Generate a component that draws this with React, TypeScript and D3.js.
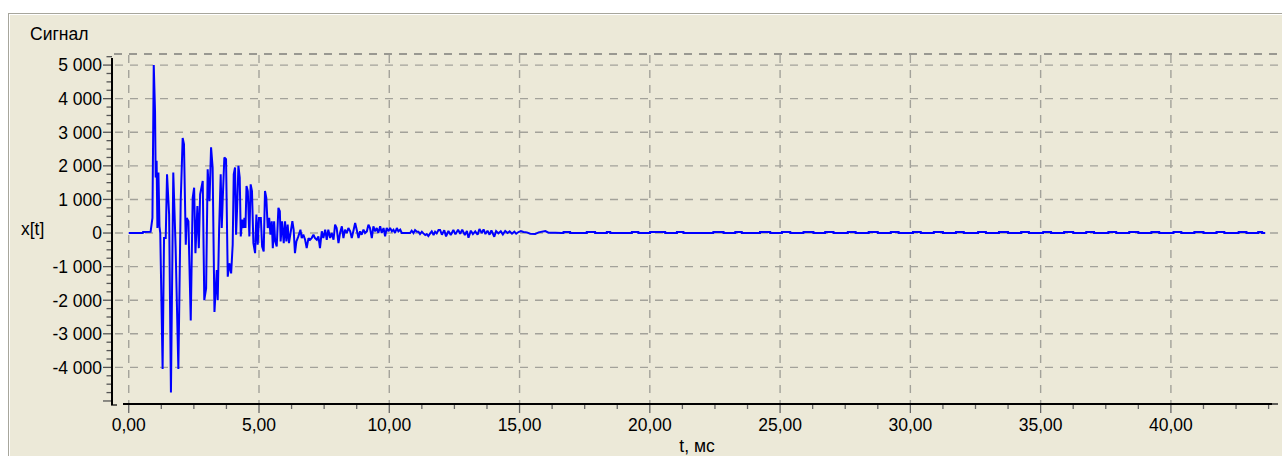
import React, { useEffect, useRef } from 'react';
import * as d3 from 'd3';

// signal vertices: [t, мс ; x[t]]
const signal: [number, number][] = [
  [0, 0], [0.54, 0], [0.55, 30], [0.84, 40], [0.91, 450], [0.96, 5000], [1.01, 3600], [1.035, 1650],
  [1.07, 2150], [1.1, 150], [1.14, 1800], [1.18, 200], [1.21, 0], [1.3, -4050], [1.355, -150], [1.42, -150],
  [1.47, 1750], [1.55, 550], [1.62, -4750], [1.71, 1800], [1.8, -450], [1.905, -4050], [1.995, 950],
  [2.07, 2830], [2.12, 2650], [2.19, -350], [2.225, 450], [2.29, 350], [2.38, -2600], [2.455, 1050],
  [2.51, 1350], [2.56, -600], [2.635, 800], [2.69, -450], [2.74, 1150], [2.84, 1550], [2.9, -2000],
  [2.97, -1650], [3.03, 1900], [3.1, 950], [3.16, 2550], [3.22, 1950], [3.29, -2350], [3.38, -1100],
  [3.415, -2000], [3.47, 150], [3.53, 1750], [3.57, 150], [3.61, 1050], [3.67, 2250], [3.735, 2200],
  [3.8, -1300], [3.86, -900], [3.93, -1200], [3.99, -350], [4.03, 1750], [4.08, 1950], [4.12, -50],
  [4.16, 750], [4.21, 2000], [4.26, 1650], [4.3, -100], [4.35, 400], [4.4, 150], [4.44, 450], [4.48, 150],
  [4.52, 1400], [4.57, 1250], [4.63, -100], [4.68, 1450], [4.73, 1250], [4.785, -300], [4.85, -600],
  [4.9, 550], [4.95, -350], [5.0, 450], [5.07, 450], [5.12, -400], [5.18, -550], [5.23, 1250], [5.28, 1050],
  [5.335, 150], [5.39, 450], [5.44, -50], [5.49, 350], [5.53, -450], [5.58, 350], [5.62, -250], [5.68, -400],
  [5.745, 750], [5.8, 650], [5.83, -250], [5.885, 350], [5.95, -300], [6.0, 350], [6.05, -250], [6.1, 250],
  [6.15, -300], [6.22, 50], [6.28, 350], [6.33, 100], [6.38, -600], [6.435, -250], [6.51, -100], [6.59, 100],
  [6.64, -150], [6.7, -50], [6.77, -200], [6.83, -450], [6.9, -150], [6.96, -200], [7.02, -150], [7.09, -50],
  [7.15, -150], [7.22, -200], [7.28, -100], [7.34, -450], [7.41, 50], [7.47, -150], [7.54, 100], [7.6, -200],
  [7.66, 100], [7.73, -150], [7.79, 0], [7.86, -200], [7.92, 250], [7.98, 150], [8.05, -300], [8.11, 0],
  [8.18, 200], [8.24, -150], [8.3, 100], [8.37, 0], [8.43, 150], [8.5, 50], [8.56, -150], [8.62, 50],
  [8.69, 300], [8.75, 100], [8.82, -150], [8.88, 50], [8.94, -50], [9.01, 100], [9.07, 0], [9.14, 50],
  [9.2, 250], [9.26, 150], [9.33, -150], [9.39, 200], [9.46, 50], [9.52, 150], [9.58, 0], [9.65, 200],
  [9.71, 0], [9.78, 150], [9.84, -100], [9.9, 150], [9.97, 50], [10.03, 150], [10.1, 50], [10.16, 100],
  [10.22, 0], [10.29, 150], [10.35, 50], [10.42, 100], [10.48, 0], [10.8, 0], [10.86, 70], [10.93, 0],
  [10.99, 90], [11.06, 40], [11.12, 40], [11.18, -30], [11.25, 40], [11.31, -10], [11.38, -60], [11.44, -30],
  [11.5, -90], [11.57, -10], [11.63, 50], [11.7, -60], [11.76, 40], [11.82, -10], [11.89, 90], [11.95, 90],
  [12.02, -50], [12.11, 80], [12.18, -100], [12.27, 60], [12.36, -60], [12.46, 90], [12.54, -40], [12.64, 100],
  [12.72, -20], [12.8, 100], [12.9, -60], [12.98, 60], [13.04, -140], [13.13, 70], [13.21, -30], [13.3, 50],
  [13.39, -50], [13.46, 120], [13.55, 0], [13.62, 110], [13.69, -30], [13.77, 70], [13.85, -50], [13.92, 80],
  [14.03, -110], [14.1, 60], [14.19, -10], [14.28, 50], [14.36, -40], [14.45, 60], [14.54, 0], [14.62, 50],
  [14.71, -20], [14.8, 40], [14.87, -20], [14.96, 30], [15.05, 60], [15.15, 30], [15.28, 20], [15.41, -20],
  [15.6, -30], [15.73, 20], [15.99, 60], [16.11, 10], [16.37, 10], [16.6, 0],
];

// the quiet tail: one-step bumps [start, end] above zero
const tailBumps: [number, number][] = [
  [16.69, 16.94], [17.58, 17.9], [18.35, 18.48], [19.31, 19.56], [20.01, 20.59], [21.04, 21.29],
  [22.44, 22.83], [23.28, 23.53], [24.23, 24.62], [25.07, 25.39], [25.9, 26.28], [26.73, 27.05],
  [27.6, 27.9], [28.4, 28.75], [29.25, 29.55], [30.1, 30.4], [30.9, 31.25], [31.75, 32.05],
  [32.6, 32.9], [33.4, 33.75], [34.25, 34.55], [35.1, 35.4], [35.9, 36.25], [36.75, 37.05],
  [37.6, 37.9], [38.4, 38.75], [39.25, 39.55], [40.1, 40.4], [40.9, 41.25], [41.75, 42.05],
  [42.6, 42.9], [43.35, 43.5],
];
const tailLevel = 30;
const tailEnd = 43.62;

const yTicks = [-4000, -3000, -2000, -1000, 0, 1000, 2000, 3000, 4000, 5000];
const xTicks = [0, 5, 10, 15, 20, 25, 30, 35, 40];

const W = 1282;
const H = 456;
const FONT = '"Liberation Sans", Arial, sans-serif';
const FS = 17.5;

const App: React.FC = () => {
  const svgRef = useRef<SVGSVGElement>(null);

  useEffect(() => {
    if (!svgRef.current) return;
    const svg = d3.select(svgRef.current);
    svg.selectAll('*').remove();

    const x = d3.scaleLinear().domain([-0.22, 43.88]).range([123, 1272]);
    const y = d3.scaleLinear().domain([-5090, 5330]).range([404, 54]);

    // panel
    svg.append('rect').attr('x', 0).attr('y', 0).attr('width', W).attr('height', H).attr('fill', '#ffffff');
    svg.append('rect').attr('x', 8).attr('y', 13).attr('width', W).attr('height', H).attr('fill', '#ECE9D8');
    svg.append('line').attr('x1', 8).attr('x2', W).attr('y1', 13.5).attr('y2', 13.5).attr('stroke', '#A7A69C');
    svg.append('line').attr('x1', 9).attr('x2', W).attr('y1', 14.5).attr('y2', 14.5).attr('stroke', '#ffffff');
    svg.append('line').attr('x1', 8.5).attr('x2', 8.5).attr('y1', 13).attr('y2', H).attr('stroke', '#A7A69C');
    svg.append('line').attr('x1', 9.5).attr('x2', 9.5).attr('y1', 14).attr('y2', H).attr('stroke', '#ffffff');

    // grid
    const grid = svg.append('g').attr('stroke', '#A3A29A').attr('stroke-width', 1.4).attr('stroke-dasharray', '8,7');
    yTicks.forEach(v => {
      grid.append('line').attr('x1', 115).attr('x2', W).attr('y1', y(v)).attr('y2', y(v));
    });
    xTicks.forEach(t => {
      grid.append('line').attr('x1', x(t)).attr('x2', x(t)).attr('y1', 55).attr('y2', 404);
    });
    // plot frame
    svg.append('line').attr('x1', 114).attr('x2', W).attr('y1', 54).attr('y2', 54)
      .attr('stroke', '#7E7E7A').attr('stroke-width', 1.4).attr('stroke-dasharray', '8,7');
    svg.append('line').attr('x1', 1272).attr('x2', W).attr('y1', 404).attr('y2', 404)
      .attr('stroke', '#222').attr('stroke-width', 1.4).attr('stroke-dasharray', '6,5');

    // y axis
    const yMinor = d3.range(-5000, 5251, 250);
    svg.append('g').selectAll('line').data(yMinor).enter().append('line')
      .attr('x1', d => (d % 1000 === 0 ? 103 : 106.5)).attr('x2', 112)
      .attr('y1', d => y(d)).attr('y2', d => y(d))
      .attr('stroke', '#555').attr('stroke-width', 1.3);
    svg.append('line').attr('x1', 112).attr('x2', 112).attr('y1', 58).attr('y2', 405)
      .attr('stroke', '#000').attr('stroke-width', 2);
    svg.append('line').attr('x1', 111).attr('x2', 117).attr('y1', 405).attr('y2', 405)
      .attr('stroke', '#000').attr('stroke-width', 1.2);
    svg.append('g').selectAll('text').data(yTicks).enter().append('text')
      .attr('x', 102).attr('y', d => y(d)).attr('dy', '0.36em')
      .attr('text-anchor', 'end').attr('font-family', FONT).attr('font-size', FS).attr('fill', '#000')
      .text(d => d3.format(',')(d).replace(/,/g, ' ').replace('−', '-'));

    // x axis
    const xMinor = d3.range(0, 43.8, 1.25);
    svg.append('g').selectAll('line').data(xMinor).enter().append('line')
      .attr('x1', d => x(d)).attr('x2', d => x(d))
      .attr('y1', 404).attr('y2', d => (Math.abs(d % 5) < 1e-6 ? 413 : 409))
      .attr('stroke', '#666').attr('stroke-width', 1.3);
    svg.append('line').attr('x1', 123).attr('x2', 1272).attr('y1', 404).attr('y2', 404)
      .attr('stroke', '#000').attr('stroke-width', 2);
    svg.append('g').selectAll('text').data(xTicks).enter().append('text')
      .attr('x', d => x(d)).attr('y', 431)
      .attr('text-anchor', 'middle').attr('font-family', FONT).attr('font-size', FS).attr('fill', '#000')
      .text(d => d3.format('.2f')(d).replace('.', ','));

    // titles
    svg.append('text').attr('x', 30).attr('y', 40).attr('font-family', FONT).attr('font-size', FS).text('Сигнал');
    svg.append('text').attr('x', 21).attr('y', 235).attr('font-family', FONT).attr('font-size', FS).text('x[t]');
    svg.append('text').attr('x', 697).attr('y', 452).attr('text-anchor', 'middle')
      .attr('font-family', FONT).attr('font-size', FS).text('t, мс');

    // signal path: attack part plus the stepped tail
    const pts: [number, number][] = [...signal];
    tailBumps.forEach(([a, b]) => {
      pts.push([a, 0], [a, tailLevel], [b, tailLevel], [b, 0]);
    });
    pts.push([tailEnd, 0]);
    const line = d3.line<[number, number]>().x(d => x(d[0])).y(d => y(d[1]));
    svg.append('path').attr('d', line(pts) ?? '')
      .attr('fill', 'none').attr('stroke', '#0000FF').attr('stroke-width', 2)
      .attr('stroke-linejoin', 'miter').attr('stroke-miterlimit', 2);
  }, []);

  return (
    <svg ref={svgRef} width={W} height={H}
      style={{ position: 'absolute', left: 0, top: 0, display: 'block' }} />
  );
};

export default App;
